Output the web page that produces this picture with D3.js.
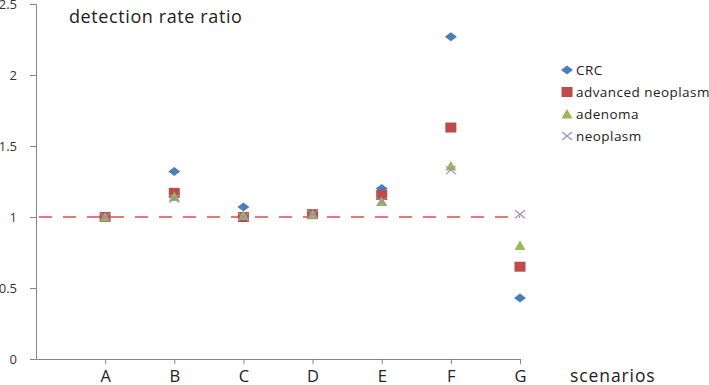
<!DOCTYPE html>
<html><head><meta charset="utf-8">
<script src="https://cdn.jsdelivr.net/npm/d3@7"></script>
<style>body{margin:0;background:#fff}svg{display:block}text{font-family:"Open Sans",sans-serif}</style>
</head><body>
<svg id="c" width="709" height="385"></svg>
<script>
const categories = ["A","B","C","D","E","F","G"];
const crc       = [1.00, 1.32, 1.07, 1.02, 1.20, 2.27, 0.43];
const advNeo    = [1.00, 1.17, 1.00, 1.02, 1.155, 1.63, 0.65];
const adenoma   = [1.00, 1.145, 1.01, 1.02, 1.11, 1.36, 0.80];
const neoplasm  = [1.00, 1.13, 1.00, 1.02, 1.11, 1.33, 1.02];
const seriesNames = ["CRC","advanced neoplasm","adenoma","neoplasm"];
const yTicks = [0, 0.5, 1, 1.5, 2, 2.5];
const yTickLabels = ["0","0.5","1","1.5","2","2.5"];
const refValue = 1;

const svg = d3.select("#c");
const x = d3.scaleLinear().domain([0, 7]).range([36, 520]);
const y = d3.scaleLinear().domain([0, 2.5]).range([359, 4]);
const axisCol = "#868686";

// y axis
const ya = svg.append("g").attr("transform","translate(36,0)")
  .call(d3.axisLeft(y).tickValues(yTicks).tickFormat((d,i)=>yTickLabels[i]).tickSize(6).tickPadding(13));
ya.select(".domain").attr("stroke",axisCol);
ya.selectAll(".tick line").attr("stroke",axisCol);
ya.selectAll(".tick text").attr("fill","#333").style("font-size","13px").style("font-family","Open Sans");

// x axis
const xa = svg.append("g").attr("transform","translate(0,359)")
  .call(d3.axisBottom(x).tickValues(d3.range(1,8)).tickFormat(d=>categories[d-1]).tickSize(5).tickSizeOuter(0).tickPadding(6));
xa.select(".domain").attr("stroke",axisCol);
xa.selectAll(".tick line").attr("stroke",axisCol);
xa.selectAll(".tick text").attr("fill","#222").style("font-size","16.5px").style("font-family","Open Sans");

// reference line
svg.append("line").attr("x1",x(0)).attr("x2",x(7)).attr("y1",y(refValue)).attr("y2",y(refValue))
  .attr("stroke","#e5484d").attr("stroke-width",1.3).attr("stroke-dasharray","13,11").attr("stroke-dashoffset",-3);

const cols = ["#4a7ebb","#be4b48","#98b954","#9a8cc0"];
const shapes = [
  (g)=>g.append("path").attr("d","M-6,0L0,-4.5L6,0L0,4.5Z").attr("fill",cols[0]),
  (g)=>g.append("rect").attr("x",-5.5).attr("y",-5).attr("width",11).attr("height",10).attr("fill",cols[1]),
  (g)=>g.append("path").attr("d","M-5.5,4.5L0,-5L5.5,4.5Z").attr("fill",cols[2]),
  (g)=>g.append("path").attr("d","M-5,-4L5,4M-5,4L5,-4").attr("stroke",cols[3]).attr("stroke-width",1.2).attr("fill","none")
];
const data = [crc, advNeo, adenoma, neoplasm];
data.forEach((vals, si)=>{
  vals.forEach((v,i)=>{
    const g = svg.append("g").attr("transform",`translate(${x(i+1)},${y(v)})`);
    shapes[si](g);
  });
});

// legend
seriesNames.forEach((n,i)=>{
  const ly = 70 + i*22;
  const g = svg.append("g").attr("transform",`translate(567,${ly})`);
  shapes[i](g);
  svg.append("text").attr("x",576).attr("y",ly+5).text(n).attr("fill","#222")
    .style("font-size","13.5px").style("letter-spacing","0.45px");
});

svg.append("text").attr("x",69).attr("y",23).text("detection rate ratio").attr("fill","#222")
  .style("font-size","18px").style("letter-spacing","0.6px");
svg.append("text").attr("x",570).attr("y",382).text("scenarios").attr("fill","#222")
  .style("font-size","17.5px").style("letter-spacing","0.9px");
</script>
</body></html>
